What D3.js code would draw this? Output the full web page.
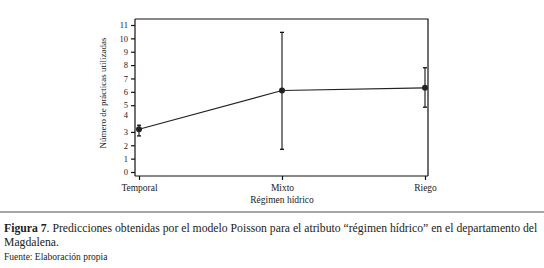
<!DOCTYPE html>
<html>
<head>
<meta charset="utf-8">
<script src="https://cdn.jsdelivr.net/npm/d3@7"></script>
<style>
  body { margin: 0; background: #fff; }
  text { font-family: "Liberation Serif", "DejaVu Serif", serif; fill: #222; }
</style>
</head>
<body>
<div id="graph"></div>
<script>
// chart data
const categories = ["Temporal", "Mixto", "Riego"];
const predicted = [3.2, 6.1, 6.3];
const lower = [2.7, 1.7, 4.85];
const upper = [3.5, 10.45, 7.8];
const yTickValues = [0, 1, 2, 3, 4.25, 5, 6, 7, 8, 9, 10, 11];
const yTickLabels = ["0", "1", "2", "3", "4", "5", "6", "7", "8", "9", "10", "11"];

// set the dimensions of the plot frame
const W = 544, H = 268;
const frame = { left: 135, right: 428, top: 19, bottom: 176 };

let svg = d3.select("#graph")
    .append("svg")
    .attr("width", W)
    .attr("height", H);

// scales
let x = d3.scalePoint()
    .domain(categories)
    .range([139, 425]);

let y = d3.scaleLinear()
    .domain([0, 11])
    .range([172, 25]);

// frame (top and right)
svg.append("path")
    .attr("d", "M" + frame.left + "," + frame.top + "H" + frame.right + "V" + frame.bottom)
    .attr("fill", "none")
    .attr("stroke", "#111")
    .attr("stroke-width", 1.2);

// Add Y axis
let yAxis = svg.append("g")
    .attr("transform", "translate(" + frame.left + ",0)")
    .call(d3.axisLeft(y)
        .tickValues(yTickValues)
        .tickFormat((d, i) => yTickLabels[i])
        .tickSize(4)
        .tickSizeOuter(0)
        .tickPadding(3));
yAxis.select(".domain")
    .attr("d", "M0," + frame.top + "V" + frame.bottom);
yAxis.selectAll(".tick").filter((d) => d === 4.25).select("line").remove();
yAxis.selectAll("text").attr("font-size", "8.5px").attr("font-family", "Liberation Serif");

// Add X axis
let xAxis = svg.append("g")
    .attr("transform", "translate(0," + frame.bottom + ")")
    .call(d3.axisBottom(x).tickSize(4).tickSizeOuter(0).tickPadding(4));
xAxis.select(".domain")
    .attr("d", "M" + frame.left + ",0H" + frame.right);
xAxis.selectAll("text").attr("font-size", "9.5px").attr("font-family", "Liberation Serif");

svg.selectAll(".domain, .tick line").attr("stroke", "#111").attr("stroke-width", 1.2);

// axis titles
svg.append("text")
    .attr("transform", "translate(106,93) rotate(-90)")
    .style("text-anchor", "middle")
    .attr("font-size", "9px")
    .text("Número de prácticas utilizadas");

svg.append("text")
    .attr("x", x("Mixto"))
    .attr("y", 203)
    .style("text-anchor", "middle")
    .attr("font-size", "9.5px")
    .text("Régimen hídrico");

// error bars
let bars = svg.append("g");
categories.forEach((c, i) => {
    let cx = x(c);
    bars.append("line")
        .attr("x1", cx).attr("x2", cx)
        .attr("y1", y(lower[i])).attr("y2", y(upper[i]))
        .attr("stroke", "#111").attr("stroke-width", 1.1);
    [lower[i], upper[i]].forEach((v) => {
        bars.append("line")
            .attr("x1", cx - 2).attr("x2", cx + 2)
            .attr("y1", y(v)).attr("y2", y(v))
            .attr("stroke", "#111").attr("stroke-width", 1.3);
    });
});

// prediction line
svg.append("path")
    .datum(predicted)
    .attr("d", d3.line()
        .x((d, i) => x(categories[i]))
        .y((d) => y(d)))
    .attr("fill", "none")
    .attr("stroke", "#222")
    .attr("stroke-width", 1.2);

svg.selectAll(".pt")
    .data(predicted)
    .enter()
    .append("circle")
    .attr("cx", (d, i) => x(categories[i]))
    .attr("cy", (d) => y(d))
    .attr("r", 3)
    .attr("fill", "#222");

// separator
svg.append("line")
    .attr("x1", 0).attr("x2", W)
    .attr("y1", 212).attr("y2", 212)
    .attr("stroke", "#888")
    .attr("stroke-width", 1.5);

// caption
let cap = svg.append("text")
    .attr("x", 4)
    .attr("y", 232)
    .attr("font-size", "11.7px");
cap.append("tspan").attr("font-weight", "bold").text("Figura 7");
cap.append("tspan").text(". Predicciones obtenidas por el modelo Poisson para el atributo “régimen hídrico” en el departamento del");

svg.append("text")
    .attr("x", 4)
    .attr("y", 246)
    .attr("font-size", "11.7px")
    .text("Magdalena.");

svg.append("text")
    .attr("x", 4)
    .attr("y", 260)
    .attr("font-size", "9.5px")
    .text("Fuente: Elaboración propia");
</script>
</body>
</html>
